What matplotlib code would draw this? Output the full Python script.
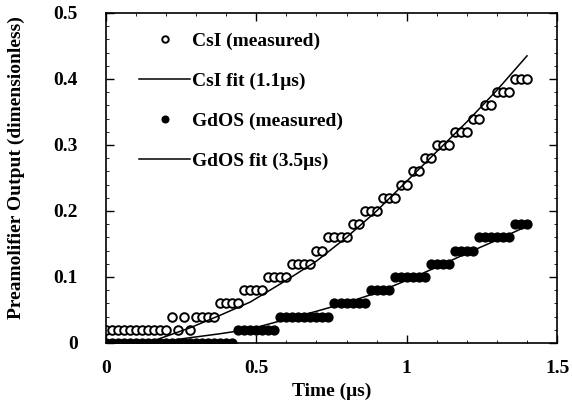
import matplotlib
matplotlib.use('Agg')
import matplotlib.pyplot as plt
import numpy as np

# sample times (us), one every 0.02 us
t_meas = np.round(np.arange(0, 71) * 0.02, 2)

# CsI measured (quantised in 0.02 steps)
csi_meas = ([0.02] * 11 + [0.04, 0.02, 0.04, 0.02] + [0.04] * 4 + [0.06] * 4
            + [0.08] * 4 + [0.10] * 4 + [0.12] * 4 + [0.14] * 2 + [0.16] * 4
            + [0.18] * 2 + [0.20] * 3 + [0.22] * 3 + [0.24] * 2 + [0.26] * 2
            + [0.28] * 2 + [0.30] * 3 + [0.32] * 3 + [0.34] * 2 + [0.36] * 2
            + [0.38] * 3 + [0.40] * 3)

# GdOS measured
gdos_meas = ([0.0] * 22 + [0.02] * 7 + [0.04] * 9 + [0.06] * 6 + [0.08] * 4
             + [0.10] * 6 + [0.12] * 4 + [0.14] * 4 + [0.16] * 6 + [0.18] * 3)

# fit curves
t_fit = [0, 0.15, 0.2, 0.28, 0.38, 0.48, 0.6, 0.7, 0.8, 0.9, 1.0, 1.1, 1.2, 1.3, 1.4]
csi_fit = [0, 0.002, 0.01, 0.023, 0.042, 0.062, 0.095, 0.124, 0.16, 0.2,
           0.245, 0.29, 0.335, 0.383, 0.435]
gdos_fit = [0, 0.0, 0.003, 0.008, 0.014, 0.021, 0.036, 0.048, 0.061, 0.076,
            0.095, 0.115, 0.136, 0.156, 0.177]

plt.rcParams['font.family'] = ['Liberation Serif', 'DejaVu Serif']
plt.rcParams['font.weight'] = 'bold'
plt.rcParams['axes.labelweight'] = 'bold'

fig = plt.figure(figsize=(5.72, 4.11), dpi=100)
ax = fig.add_axes([0.185, 0.1655, 0.789, 0.803])

ax.plot(t_meas, csi_meas, linestyle='none', marker='o', markersize=6.2,
        markerfacecolor='white', markeredgecolor='black', markeredgewidth=1.4,
        label='CsI (measured)')
ax.plot(t_fit, csi_fit, color='black', linewidth=1.1, label='CsI fit (1.1\u03bcs)')
ax.plot(t_meas, gdos_meas, linestyle='none', marker='o', markersize=6.4,
        markerfacecolor='black', markeredgecolor='black',
        label='GdOS (measured)')
ax.plot(t_fit, gdos_fit, color='black', linewidth=1.1, label='GdOS fit (3.5\u03bcs)')

ax.set_xlim(0, 1.5)
ax.set_ylim(0, 0.5)
ax.set_xticks([0, 0.5, 1, 1.5])
ax.set_xticklabels(['0', '0.5', '1', '1.5'])
ax.set_yticks([0, 0.1, 0.2, 0.3, 0.4, 0.5])
ax.set_yticklabels(['0', '0.1', '0.2', '0.3', '0.4', '0.5'])
ax.set_xticks(np.arange(0, 1.51, 0.1), minor=True)
ax.set_yticks(np.arange(0, 0.51, 0.02), minor=True)
ax.tick_params(which='major', direction='in', length=6, width=1,
               top=True, right=True, labelsize=14)
ax.tick_params(axis='y', which='major', pad=20)
ax.tick_params(axis='x', which='major', pad=12)
ax.tick_params(which='minor', direction='in', length=2, width=0.6,
               top=True, right=True)
for s in ax.spines.values():
    s.set_linewidth(1.2)

ax.set_xlabel('Time (\u03bcs)', fontsize=14, labelpad=4)
ax.set_ylabel('Preamolifier Output (dimensionless)', fontsize=14)
ax.yaxis.set_label_coords(-0.178, 0.53)

ax.legend(loc='upper left', bbox_to_anchor=(0.053, 0.97), frameon=False,
          fontsize=14, borderpad=0, handlelength=2.6, handletextpad=0.1,
          labelspacing=1.14, markerscale=0.75)

fig.savefig('out.png', dpi=100)
